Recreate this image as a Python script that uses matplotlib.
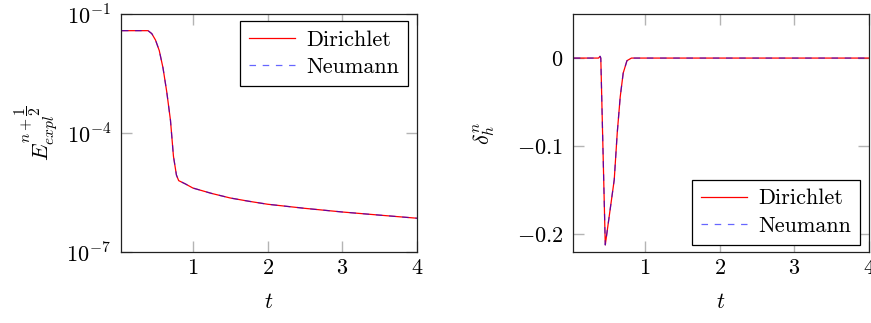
import numpy as np
import matplotlib
matplotlib.use("Agg")
import matplotlib.pyplot as plt
from matplotlib.ticker import FixedLocator, FixedFormatter, NullLocator

plt.rcParams["font.family"] = "serif"
plt.rcParams["font.serif"] = ["cmr10"]
plt.rcParams["mathtext.fontset"] = "cm"
plt.rcParams["axes.formatter.use_mathtext"] = True
plt.rcParams["lines.scale_dashes"] = False

# energy (left panel)
t_energy = [0.05, 0.1, 0.2, 0.3, 0.4, 0.45, 0.5, 0.55, 0.6, 0.65, 0.7, 0.74, 0.78,
            0.81, 0.9, 1.0, 1.25, 1.5, 1.75, 2.0, 2.5, 3.0, 3.5, 4.0]
E_dirichlet = [3.8e-2, 3.8e-2, 3.8e-2, 3.8e-2, 3.8e-2, 3.2e-2, 2.2e-2, 1.2e-2, 4.4e-3,
               1.1e-3, 2.1e-4, 2.6e-5, 8.7e-6, 6.3e-6, 5.2e-6, 4.1e-6, 3.0e-6, 2.3e-6,
               1.9e-6, 1.6e-6, 1.26e-6, 1.02e-6, 8.5e-7, 7.1e-7]
E_neumann = [3.8e-2, 3.8e-2, 3.8e-2, 3.8e-2, 3.8e-2, 3.2e-2, 2.2e-2, 1.2e-2, 4.4e-3,
             1.1e-3, 2.1e-4, 2.6e-5, 8.7e-6, 6.3e-6, 5.2e-6, 4.1e-6, 3.0e-6, 2.3e-6,
             1.9e-6, 1.6e-6, 1.26e-6, 1.02e-6, 8.5e-7, 7.1e-7]

# delta (right panel)
t_delta = [0.05, 0.3, 0.38, 0.4, 0.41, 0.47, 0.53, 0.59, 0.63, 0.67, 0.71, 0.76,
           0.82, 1.0, 2.0, 3.0, 4.0]
d_dirichlet = [0.0, 0.0, 0.0, 0.002, 0.0, -0.212, -0.175, -0.138, -0.085, -0.044,
               -0.017, -0.003, 0.0, 0.0, 0.0, 0.0, 0.0]
d_neumann = [0.0, 0.0, 0.0, 0.002, 0.0, -0.212, -0.175, -0.138, -0.085, -0.044,
             -0.017, -0.003, 0.0, 0.0, 0.0, 0.0, 0.0]

xticks = [1, 2, 3, 4]

fig = plt.figure(figsize=(8.71, 3.23), dpi=100)
ax1 = fig.add_axes([121 / 871, 71 / 323, 296 / 871, 238 / 323])
ax2 = fig.add_axes([573 / 871, 71 / 323, 296 / 871, 238 / 323])

FS = 16
red_kw = dict(color="red", lw=0.9, label="Dirichlet")
blue_kw = dict(color="blue", alpha=0.6, lw=0.9, dashes=(4.7, 4.8), label="Neumann")
leg_kw = dict(borderaxespad=0, fontsize=FS, fancybox=False, edgecolor="black",
              framealpha=1, handlelength=2.1, handletextpad=0.5, borderpad=0.4,
              labelspacing=0.36)


def style(ax):
    ax.set_xlim(0.038, 4)
    ax.xaxis.set_major_locator(FixedLocator(xticks))
    ax.xaxis.set_major_formatter(FixedFormatter([f"${v}$" for v in xticks]))
    ax.tick_params(which="both", direction="in", length=8, width=1, color="#b4b4b4",
                   top=True, right=True, labelsize=FS, pad=5)
    ax.tick_params(axis="y", pad=7)
    ax.yaxis.set_minor_locator(NullLocator())
    for s in ax.spines.values():
        s.set_linewidth(0.9)
        s.set_color("#222222")
    ax.set_xlabel("$t$", fontsize=FS, labelpad=10)


ax1.semilogy(t_energy, E_dirichlet, **red_kw)
ax1.semilogy(t_energy, E_neumann, **blue_kw)
ax1.set_ylim(1e-7, 1e-1)
ax1.yaxis.set_major_locator(FixedLocator([1e-7, 1e-4, 1e-1]))
ax1.yaxis.set_major_formatter(FixedFormatter([r"$10^{-7}$", r"$10^{-4}$", r"$10^{-1}$"]))
style(ax1)
ax1.set_ylabel(r"$E_{expl}^{n+\dfrac{1}{2}}$", fontsize=FS, labelpad=4)
ax1.legend(loc="upper right", bbox_to_anchor=(0.97, 0.97), **leg_kw)
ax1.get_legend().get_frame().set_linewidth(0.9)

ax2.plot(t_delta, d_dirichlet, **red_kw)
ax2.plot(t_delta, d_neumann, **blue_kw)
ax2.set_ylim(-0.22, 0.05)
yt = [-0.2, -0.1, 0]
ax2.yaxis.set_major_locator(FixedLocator(yt))
ax2.yaxis.set_major_formatter(FixedFormatter([r"$-0.2$", r"$-0.1$", r"$0$"]))
style(ax2)
ax2.set_ylabel(r"$\delta_h^n$", fontsize=FS, labelpad=14)
ax2.legend(loc="lower right", bbox_to_anchor=(0.97, 0.03), **leg_kw)
ax2.get_legend().get_frame().set_linewidth(0.9)

fig.savefig("out.png", dpi=100)
